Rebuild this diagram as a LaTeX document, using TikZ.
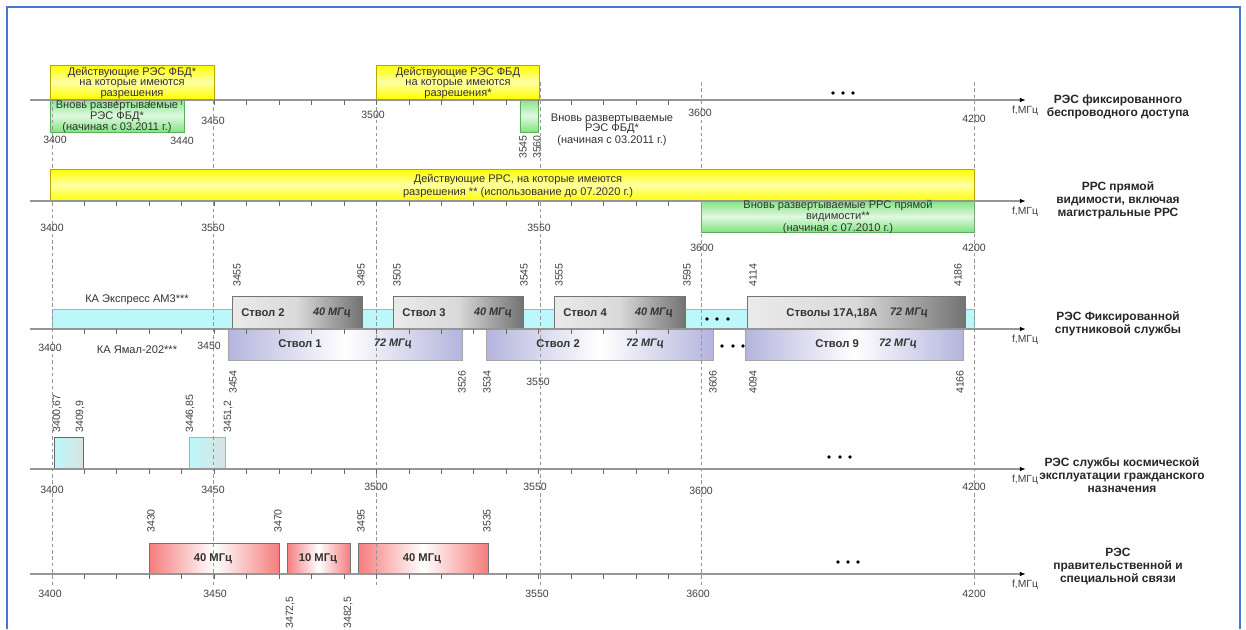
\documentclass[tikz,border=0pt]{standalone}
\usepackage{fontspec}
\setmainfont{Liberation Sans}
\usetikzlibrary{arrows.meta}

\definecolor{frameblue}{RGB}{72,118,212}
\definecolor{axisgray}{RGB}{150,150,150}
\definecolor{bandyellow}{RGB}{255,255,0}
\definecolor{edgeyellow}{RGB}{185,165,0}
\definecolor{bandgreen}{RGB}{130,228,130}
\definecolor{edgegreen}{RGB}{90,175,90}
\definecolor{bandcyan}{RGB}{188,248,250}
\definecolor{edgecyan}{RGB}{130,195,200}
\definecolor{bandlilac}{RGB}{180,180,222}
\definecolor{bandred}{RGB}{245,125,125}

\begin{document}
\begin{tikzpicture}[x=0.02cm,y=-0.02cm,
		ax/.style={axisgray,line width=0.9pt,-{Latex[black,length=3.5pt,width=2.6pt]}},
		tick/.style={axisgray!70!black,line width=0.5pt},
		grid/.style={axisgray,line width=0.4pt,dash pattern=on 2pt off 1.6pt},
		num/.style={font=\fontsize{6}{6}\selectfont,text=black!75,inner sep=0pt},
		vnum/.style={num,rotate=90},
		txt/.style={font=\fontsize{6.3}{5.8}\selectfont,text=black!80,align=center,inner sep=0pt},
		gtxt/.style={txt,font=\fontsize{6.3}{6.4}\selectfont},
		chan/.style={font=\fontsize{6.4}{6}\selectfont\bfseries,text=black!80,inner sep=0pt},
		mhz/.style={chan,font=\fontsize{6.2}{6}\selectfont\bfseries\itshape},
		unit/.style={font=\fontsize{5.9}{6}\selectfont,text=black!75,inner sep=0pt},
		svc/.style={font=\fontsize{6.8}{7.4}\selectfont\bfseries,text=black!85,align=center,inner sep=0pt},
		ylw/.style={draw=edgeyellow,line width=0.5pt,top color=bandyellow,bottom color=bandyellow,middle color=bandyellow!35},
		grn/.style={draw=edgegreen,line width=0.5pt,top color=bandgreen,bottom color=bandgreen,middle color=bandgreen!25},
		gry/.style={draw=black!55,line width=0.5pt,left color=black!8,right color=black!55,middle color=black!15},
		lil/.style={draw=black!35,line width=0.5pt,left color=bandlilac,right color=bandlilac,middle color=white},
		rdb/.style={draw=black!55,line width=0.5pt,left color=bandred,right color=bandred,middle color=white},
		cyn/.style={draw=edgecyan,line width=0.5pt,fill=bandcyan}]
	\useasboundingbox (0,0) rectangle (1246,629);
	\draw[frameblue,line width=1.1pt] (7,629) -- (7,7) -- (1240,7) -- (1240,629);

	% bands under the grid
	\draw[grn] (50,99) rectangle (184,132);
	\draw[grn] (520,99) rectangle (538,132);
	\draw[grn] (701,201) rectangle (974,232);
	\draw[cyn] (52,309) rectangle (974,329);
	\draw[gry] (232,296) rectangle (362,329);
	\draw[gry] (393,296) rectangle (523,329);
	\draw[gry] (554,296) rectangle (685,329);
	\draw[gry] (747,296) rectangle (965,329);
	\draw[lil] (228,329) rectangle (462,360);
	\draw[lil] (486,329) rectangle (713,360);
	\draw[lil] (745,329) rectangle (963,360);
	\draw[cyn,left color=bandcyan,right color=bandcyan!65!black!30,draw=black!60] (54,437) rectangle (83,469);
	\draw[cyn,left color=bandcyan,right color=bandcyan!65!black!30] (189,437) rectangle (225,469);
	\draw[rdb] (149,543) rectangle (279,574);
	\draw[rdb] (287,543) rectangle (350,574);
	\draw[rdb] (358,543) rectangle (488,574);

	% grid
	\foreach \x in {52,213,376,540,701,974}
		\draw[grid] (\x,82) -- (\x,588);

	% bands over the grid
	\draw[ylw] (50,65) rectangle (214,99);
	\draw[ylw] (376,65) rectangle (539,99);
	\draw[ylw] (50,169) rectangle (974,201);

	% axes and ticks
	\foreach \n/\y in {1/100,2/201,3/329,4/469,5/574} {
		\coordinate (ax\n-w) at (30,\y);
		\coordinate (ax\n-e) at (1026,\y);
		\draw[ax] (ax\n-w) -- (ax\n-e);
		\foreach \k in {1,...,19}
			\draw[tick] (52+32.45*\k,\y) -- ++(0,5);
		\node[unit] (f\n) at (1025,\y+11) {f,МГц};
	}

	% axis 1
	\node[txt] (fbdold1) at (132,83) {Действующие РЭС ФБД*\\на которые имеются\\разрешения};
	\node[gtxt] (fbdnew1) at (117,117) {Вновь развертываемые\\РЭС ФБД*\\(начиная с 03.2011 г.)};
	\node[txt] (fbdold2) at (458,83) {Действующие РЭС ФБД\\на которые имеются\\разрешения*};
	\node[txt] (fbdnew2) at (612,130) {Вновь развертываемые\\РЭС ФБД*\\(начиная с 03.2011 г.)};
	\foreach \t/\x/\y [count=\i] in {3400/55/140, 3440/182/141, 3450/213/121, 3500/373/115, 3600/700/113, 4200/974/119}
		\node[num] (a1n\i) at (\x,\y) {\t};
	\node[vnum] (a1v1) at (523,147) {3545};
	\node[vnum] (a1v2) at (537,147) {3560};
	\foreach \x in {833,843,853}
		\fill (\x,93) circle (1.8);
	\node[svc] (svc1) at (1118,107) {РЭС фиксированного\\беспроводного доступа};

	% axis 2
	\node[txt,font=\fontsize{6.3}{7}\selectfont] (rrsold) at (518,186) {Действующие РРС, на которые имеются\\разрешения ** (использование до 07.2020 г.)};
	\node[gtxt] (rrsnew) at (838,217) {Вновь развертываемые РРС прямой\\видимости**\\(начиная с 07.2010 г.)};
	\foreach \t/\x/\y [count=\i] in {3400/52/228, 3550/213/228, 3550/539/228, 3600/702/248, 4200/974/248}
		\node[num] (a2n\i) at (\x,\y) {\t};
	\node[svc] (svc2) at (1118,200) {РРС прямой\\видимости, включая\\магистральные РРС};

	% axis 3
	\node[txt] (expr) at (137,300) {КА Экспресс АМ3***};
	\node[txt] (yamal) at (137,350) {КА Ямал-202***};
	\foreach \a/\b/\x [count=\i] in {Ствол 2/40 МГц/232, Ствол 3/40 МГц/393, Ствол 4/40 МГц/554} {
		\node[chan] (eu\i) at (\x+31,313) {\a};
		\node[mhz] (em\i) at (\x+100,313) {\b};
	}
	\node[chan] (eu4) at (832,313) {Стволы 17А,18А};
	\node[mhz] (em4) at (909,313) {72 МГц};
	\node[chan] (yu1) at (300,344) {Ствол 1};
	\node[mhz] (ym1) at (393,344) {72 МГц};
	\node[chan] (yu2) at (558,344) {Ствол 2};
	\node[mhz] (ym2) at (645,344) {72 МГц};
	\node[chan] (yu3) at (837,344) {Ствол 9};
	\node[mhz] (ym3) at (898,344) {72 МГц};
	\foreach \x in {707,717,728}
		\fill (\x,319) circle (1.8);
	\foreach \x in {722,733,743}
		\fill (\x,346) circle (1.8);
	\foreach \t/\x/\y [count=\i] in {3400/50/348, 3450/209/346, 3550/538/382}
		\node[num] (a3n\i) at (\x,\y) {\t};
	\foreach \t/\x [count=\i] in {3455/237, 3495/361, 3505/397, 3545/524, 3555/559, 3595/687, 4114/753, 4186/958}
		\node[vnum] (a3u\i) at (\x,275) {\t};
	\foreach \t/\x [count=\i] in {3454/233, 3526/462, 3534/487, 3606/713, 4094/753, 4166/960}
		\node[vnum] (a3d\i) at (\x,382) {\t};
	\node[svc] (svc3) at (1118,324) {РЭС Фиксированной\\спутниковой службы};

	% axis 4
	\foreach \t/\x [count=\i] in {{3400,67}/57, {3409,9}/80, {3446,85}/190, {3451,2}/228}
		\node[vnum,anchor=west] (a4u\i) at (\x,433) {\t};
	\foreach \t/\x/\y [count=\i] in {3400/52/490, 3450/213/490, 3500/376/487, 3550/535/487, 3600/701/491, 4200/974/487}
		\node[num] (a4n\i) at (\x,\y) {\t};
	\foreach \x in {829,840,850}
		\fill (\x,457) circle (1.8);
	\node[svc] (svc4) at (1122,475) {РЭС службы космической\\эксплуатации гражданского\\назначения};

	% axis 5
	\node[chan] (g1) at (213,559) {40 МГц};
	\node[chan] (g2) at (318,559) {10 МГц};
	\node[chan] (g3) at (422,559) {40 МГц};
	\foreach \t/\x [count=\i] in {3430/151, 3470/278, 3495/361, 3535/487}
		\node[vnum,anchor=west] (a5u\i) at (\x,533) {\t};
	\foreach \t/\x [count=\i] in {{3472,5}/290, {3482,5}/348}
		\node[vnum,anchor=east] (a5d\i) at (\x,596) {\t};
	\foreach \t/\x [count=\i] in {3400/50, 3450/215, 3550/537, 3600/698, 4200/974}
		\node[num] (a5n\i) at (\x,594) {\t};
	\foreach \x in {838,848,858}
		\fill (\x,562) circle (1.8);
	\node[svc] (svc5) at (1118,567) {РЭС\\правительственной и\\специальной связи};
\end{tikzpicture}
\end{document}
